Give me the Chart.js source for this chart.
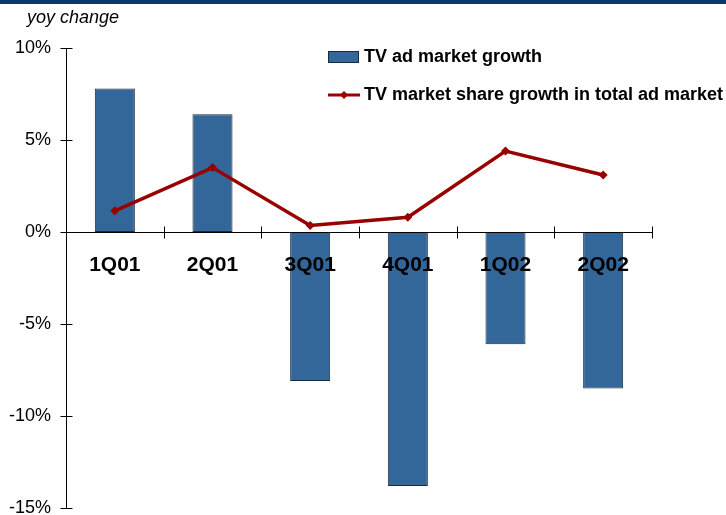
<!DOCTYPE html>
<html>
<head>
<meta charset="utf-8">
<script src="https://cdn.jsdelivr.net/npm/chart.js@4.4.1/dist/chart.umd.min.js"></script>
<style>
  html, body { margin: 0; padding: 0; background: #ffffff; }
  #wrap { width: 726px; height: 515px; position: relative; }
</style>
</head>
<body>
<div id="wrap"><canvas id="c" width="726" height="515"></canvas></div>
<script>
// Quarterly categories
const quarters = ['1Q01', '2Q01', '3Q01', '4Q01', '1Q02', '2Q02'];
// Year-on-year TV ad market growth (%)
const adMarketGrowth = [7.8, 6.4, -8.1, -13.8, -6.1, -8.5];
// Year-on-year growth of TV's share of the total ad market (%)
const shareGrowth = [1.15, 3.5, 0.35, 0.8, 4.4, 3.1];
// Value axis ticks (%)
const yTicks = [10, 5, 0, -5, -10, -15];

const seriesNames = ['TV ad market growth', 'TV market share growth in total ad market'];
const barFill = '#336699';
const barEdge = '#1b2a3c';
const lineColor = '#990000';
const navy = '#0b3a6b';
const FONT = '"Liberation Sans", Arial, Helvetica, sans-serif';

// Axis lines, crossing tick marks, category labels, header rule, caption and legend
const decorations = {
  id: 'decorations',
  beforeDraw(chart) {
    const ctx = chart.ctx;
    ctx.save();
    ctx.fillStyle = navy;
    ctx.fillRect(0, 0, chart.width, 4);
    ctx.fillStyle = '#000';
    ctx.font = 'italic 18px ' + FONT;
    ctx.textBaseline = 'middle';
    ctx.textAlign = 'left';
    ctx.fillText('yoy change', 27, 18);
    ctx.restore();
  },
  afterDatasetsDraw(chart) {
    const ctx = chart.ctx;
    const x = chart.scales.x, y = chart.scales.y;
    const zeroY = Math.round(y.getPixelForValue(0)) + 0.5;
    const axisX = Math.round(x.left) + 0.5;
    ctx.save();
    ctx.strokeStyle = '#000';
    ctx.lineWidth = 1;
    ctx.beginPath();
    // value axis
    ctx.moveTo(axisX, y.getPixelForValue(yTicks[0]));
    ctx.lineTo(axisX, y.getPixelForValue(yTicks[yTicks.length - 1]));
    yTicks.forEach(v => {
      const py = Math.round(y.getPixelForValue(v)) + 0.5;
      ctx.moveTo(axisX - 6, py);
      ctx.lineTo(axisX + 6, py);
    });
    // category axis at zero
    ctx.moveTo(x.left, zeroY);
    ctx.lineTo(x.right, zeroY);
    const step = (x.right - x.left) / quarters.length;
    for (let k = 1; k <= quarters.length; k++) {
      const px = Math.round(x.left + k * step) + 0.5;
      ctx.moveTo(px, zeroY - 6);
      ctx.lineTo(px, zeroY + 6);
    }
    ctx.stroke();

    // category labels, drawn over the bars
    ctx.fillStyle = '#000';
    ctx.font = 'bold 21px ' + FONT;
    ctx.textAlign = 'center';
    ctx.textBaseline = 'middle';
    quarters.forEach((q, i) => ctx.fillText(q, x.getPixelForValue(i), zeroY + 33));

    // legend
    ctx.font = 'bold 18px ' + FONT;
    ctx.textAlign = 'left';
    ctx.fillStyle = barFill;
    ctx.fillRect(328.5, 51.5, 30, 11);
    ctx.strokeStyle = barEdge;
    ctx.strokeRect(328.5, 51.5, 30, 11);
    ctx.fillStyle = '#000';
    ctx.fillText(seriesNames[0], 364, 57);
    ctx.strokeStyle = lineColor;
    ctx.lineWidth = 3;
    ctx.beginPath();
    ctx.moveTo(328, 95);
    ctx.lineTo(360, 95);
    ctx.stroke();
    ctx.fillStyle = lineColor;
    ctx.beginPath();
    ctx.moveTo(344, 91); ctx.lineTo(348, 95); ctx.lineTo(344, 99); ctx.lineTo(340, 95);
    ctx.closePath();
    ctx.fill();
    ctx.fillStyle = '#000';
    ctx.fillText(seriesNames[1], 364, 95);
    ctx.restore();
  }
};

new Chart(document.getElementById('c'), {
  data: {
    labels: quarters,
    datasets: [
      {
        type: 'line',
        label: seriesNames[1],
        data: shareGrowth,
        borderColor: lineColor,
        backgroundColor: lineColor,
        borderWidth: 3.5,
        pointStyle: 'rectRot',
        pointRadius: 4.5,
        pointBorderWidth: 0,
        tension: 0,
        order: 0
      },
      {
        type: 'bar',
        label: seriesNames[0],
        data: adMarketGrowth,
        backgroundColor: barFill,
        borderColor: barEdge,
        borderWidth: 1,
        borderSkipped: false,
        categoryPercentage: 1,
        barPercentage: 0.41,
        order: 1
      }
    ]
  },
  options: {
    responsive: false,
    animation: false,
    events: [],
    layout: { padding: { left: 0, top: 48, right: 74, bottom: 7 } },
    plugins: { legend: { display: false }, tooltip: { enabled: false } },
    scales: {
      x: {
        type: 'category',
        position: 'bottom',
        afterFit(scale) { scale.height = 0; scale.paddingLeft = 0; scale.paddingRight = 0; },
        grid: { display: false, drawTicks: false },
        border: { display: false },
        ticks: { display: false }
      },
      y: {
        min: -15,
        max: 10,
        afterFit(scale) { scale.width = 66; scale.paddingTop = 0; scale.paddingBottom = 0; },
        afterBuildTicks(scale) { scale.ticks = yTicks.map(v => ({ value: v })); },
        grid: { display: false, drawTicks: false },
        border: { display: false },
        ticks: {
          color: '#000',
          font: { family: FONT, size: 18 },
          padding: 15,
          callback: v => v + '%'
        }
      }
    }
  },
  plugins: [decorations]
});
</script>
</body>
</html>
